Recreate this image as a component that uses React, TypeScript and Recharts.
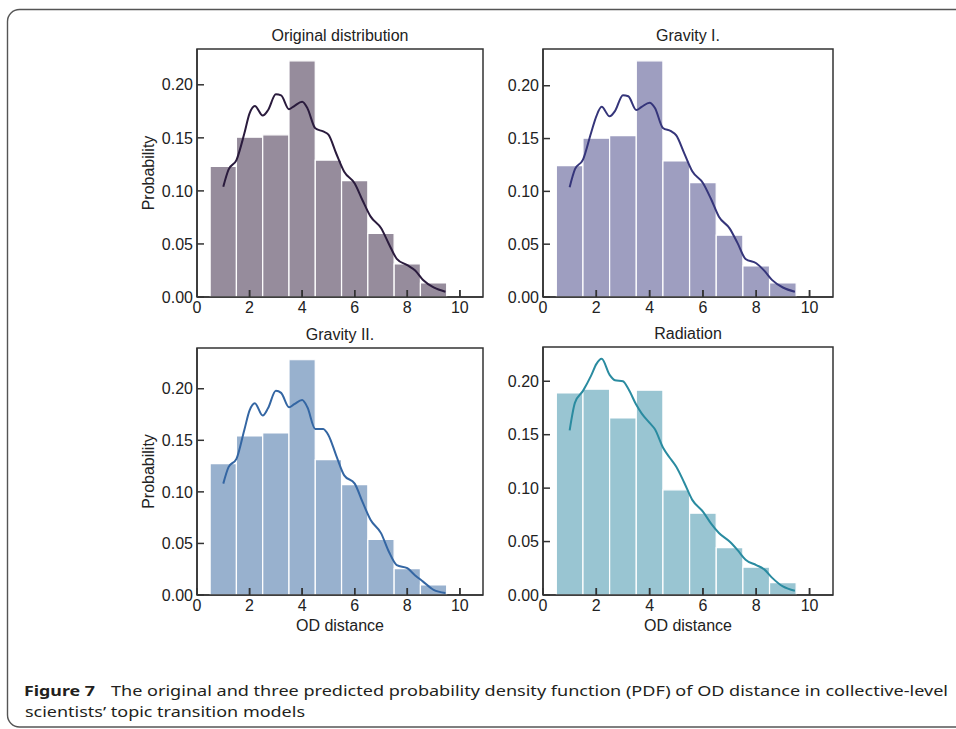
import { ComposedChart, Bar, Line, XAxis, YAxis, ReferenceArea, ReferenceLine } from 'recharts';

// histogram bins (OD distance), width 1, centred on integers
const binCenters = [1, 2, 3, 4, 5, 6, 7, 8, 9];

const originalBars = [0.123, 0.1506, 0.1528, 0.2226, 0.129, 0.1096, 0.0599, 0.0312, 0.0132];
const gravity1Bars = [0.1244, 0.1503, 0.1528, 0.2236, 0.1288, 0.1082, 0.0585, 0.0294, 0.0133];
const gravity2Bars = [0.1274, 0.1542, 0.1571, 0.2281, 0.1313, 0.1071, 0.0539, 0.0255, 0.0097];
const radiationBars = [0.189, 0.1925, 0.1657, 0.1916, 0.0984, 0.0766, 0.0444, 0.026, 0.0116];

// kde curves
const kdeX = [1, 1.2, 1.5, 1.8, 2.0, 2.2, 2.5, 2.7, 3.0, 3.2, 3.5, 3.7, 4.0, 4.2, 4.5, 4.8, 5.0, 5.3, 5.6, 6.0, 6.3, 6.6, 7.0, 7.3, 7.6, 8.0, 8.3, 8.6, 9.0, 9.45];
const originalKde = [0.104, 0.12, 0.129, 0.154, 0.173, 0.18, 0.171, 0.176, 0.191, 0.19, 0.177, 0.18, 0.184, 0.178, 0.159, 0.156, 0.153, 0.135, 0.118, 0.107, 0.091, 0.076, 0.065, 0.05, 0.036, 0.03, 0.025, 0.016, 0.009, 0.005];
const gravity1Kde = [0.104, 0.121, 0.13, 0.155, 0.171, 0.18, 0.171, 0.176, 0.191, 0.19, 0.177, 0.18, 0.184, 0.179, 0.16, 0.157, 0.153, 0.136, 0.119, 0.108, 0.093, 0.076, 0.065, 0.051, 0.036, 0.032, 0.025, 0.016, 0.009, 0.005];
const gravity2Kde = [0.108, 0.124, 0.132, 0.16, 0.179, 0.186, 0.174, 0.181, 0.198, 0.196, 0.182, 0.185, 0.189, 0.182, 0.161, 0.161, 0.155, 0.135, 0.116, 0.108, 0.09, 0.073, 0.06, 0.042, 0.029, 0.026, 0.019, 0.013, 0.005, 0.002];
const radiationKde = [0.154, 0.18, 0.191, 0.205, 0.216, 0.221, 0.206, 0.201, 0.2, 0.193, 0.178, 0.17, 0.161, 0.155, 0.138, 0.127, 0.12, 0.105, 0.089, 0.078, 0.067, 0.058, 0.05, 0.042, 0.033, 0.028, 0.024, 0.016, 0.008, 0.004];

const xTicks = [0, 2, 4, 6, 8, 10];
const yTicks = [0, 0.05, 0.1, 0.15, 0.2];

const X_MAX = 10.88;
const FONT = '"Liberation Sans", Arial, sans-serif';
const AXIS = '#333';
const TICK_PX = 7;

type Box = { x: number; y: number; w: number; h: number };

const ML = 70, MT = 40, MR = 10, MB = 60;

function Panel({ bars, kde, fill, stroke, box }: { bars: number[]; kde: number[]; fill: string; stroke: string; box: Box }) {
  const barData = binCenters.map((x, i) => ({ x, p: bars[i] }));
  const lineData = kdeX.map((x, i) => ({ x, d: kde[i] }));
  const yTop = Math.max(...bars, ...kde) * 1.05;
  // just under the bin pitch, otherwise recharts shrinks bars to 90%
  const unit = (box.w / X_MAX) * 0.998;
  const tickLen = (TICK_PX / box.h) * yTop; // inward x-tick length in data units
  return (
    <div style={{ position: 'absolute', left: box.x - ML, top: box.y - MT }}>
      <ComposedChart
        width={box.w + ML + MR}
        height={box.h + MT + MB}
        data={barData}
        margin={{ top: MT, right: MR, left: 0, bottom: MB - 30 }}
        barCategoryGap={0}
        barGap={0}
        style={{ fontFamily: FONT }}
      >
        <XAxis
          type="number"
          dataKey="x"
          domain={[0, X_MAX]}
          allowDataOverflow
          ticks={xTicks}
          interval={0}
          height={30}
          tickSize={-TICK_PX}
          tickMargin={12}
          axisLine={{ stroke: AXIS, strokeWidth: 1.5 }}
          tickLine={{ stroke: AXIS, strokeWidth: 1.5 }}
          tick={{ fill: '#222', fontSize: 16 }}
        />
        <XAxis xAxisId="kde" type="number" dataKey="x" domain={[0, X_MAX]} allowDataOverflow hide />
        <YAxis
          type="number"
          domain={[0, yTop]}
          allowDataOverflow
          ticks={yTicks}
          interval={0}
          width={ML}
          tickSize={-TICK_PX}
          tickMargin={11}
          tickFormatter={(v: number) => v.toFixed(2)}
          axisLine={{ stroke: AXIS, strokeWidth: 1.5 }}
          tickLine={{ stroke: AXIS, strokeWidth: 1.5 }}
          tick={{ fill: '#222', fontSize: 16 }}
        />
        <Bar dataKey="p" fill={fill} stroke="#fff" strokeWidth={1.2} barSize={unit} isAnimationActive={false} />
        <Line xAxisId="kde" data={lineData} dataKey="d" type="monotone" stroke={stroke} strokeWidth={2} dot={false} isAnimationActive={false} />
        {xTicks.slice(1).map((t) => (
          <ReferenceLine key={t} segment={[{ x: t, y: 0 }, { x: t, y: tickLen }]} stroke={AXIS} strokeWidth={1.5} ifOverflow="visible" />
        ))}
        <ReferenceArea x1={0} x2={X_MAX} y1={0} y2={yTop} fill="none" fillOpacity={0} stroke={AXIS} strokeWidth={1.5} ifOverflow="visible" />
      </ComposedChart>
    </div>
  );
}

const boxes: Box[] = [
  { x: 197, y: 49, w: 286, h: 248 },
  { x: 543, y: 49, w: 290, h: 248 },
  { x: 197, y: 348, w: 286, h: 247 },
  { x: 543, y: 347, w: 290, h: 248 },
];

const panels = [
  { title: 'Original distribution', bars: originalBars, kde: originalKde, fill: '#968c9c', stroke: '#2a1b3d' },
  { title: 'Gravity I.', bars: gravity1Bars, kde: gravity1Kde, fill: '#9e9ec0', stroke: '#35357a' },
  { title: 'Gravity II.', bars: gravity2Bars, kde: gravity2Kde, fill: '#98b1ce', stroke: '#3466a3' },
  { title: 'Radiation', bars: radiationBars, kde: radiationKde, fill: '#99c5d2', stroke: '#2a8ba0' },
];

export default function App() {
  return (
    <div style={{ position: 'absolute', left: 0, top: 0, width: 956, height: 729, background: '#fff', overflow: 'hidden' }}>
      {panels.map((p, i) => (
        <Panel key={p.title} bars={p.bars} kde={p.kde} fill={p.fill} stroke={p.stroke} box={boxes[i]} />
      ))}
      <svg width={956} height={729} style={{ position: 'absolute', left: 0, top: 0, pointerEvents: 'none' }}>
        <rect x={7.5} y={9.5} width={980} height={717.5} rx={12} fill="none" stroke="#555" strokeWidth={1.4} />
        <g fontFamily={FONT} fontSize={16} fill="#222">
          {panels.map((p, i) => (
            <text key={p.title} x={boxes[i].x + boxes[i].w / 2} y={boxes[i].y - 14} textAnchor="middle" dominantBaseline="central">
              {p.title}
            </text>
          ))}
          {[0, 2].map((i) => (
            <text key={'yl' + i} x={148} y={boxes[i].y + boxes[i].h / 2} textAnchor="middle" dominantBaseline="central"
              transform={`rotate(-90 148 ${boxes[i].y + boxes[i].h / 2})`}>
              Probability
            </text>
          ))}
          {[2, 3].map((i) => (
            <text key={'xl' + i} x={boxes[i].x + boxes[i].w / 2} y={625} textAnchor="middle" dominantBaseline="central">
              OD distance
            </text>
          ))}
        </g>
        <g fontFamily='"Noto Sans", "Open Sans", sans-serif' fontSize={15} fill="#231f20">
          <text x={24} y={696} fontWeight="bold" textLength={71} lengthAdjust="spacingAndGlyphs">Figure 7</text>
          <text x={111} y={696} textLength={837} lengthAdjust="spacingAndGlyphs">
            The original and three predicted probability density function (PDF) of OD distance in collective-level
          </text>
          <text x={25} y={717} textLength={280} lengthAdjust="spacingAndGlyphs">scientists’ topic transition models</text>
        </g>
      </svg>
    </div>
  );
}
